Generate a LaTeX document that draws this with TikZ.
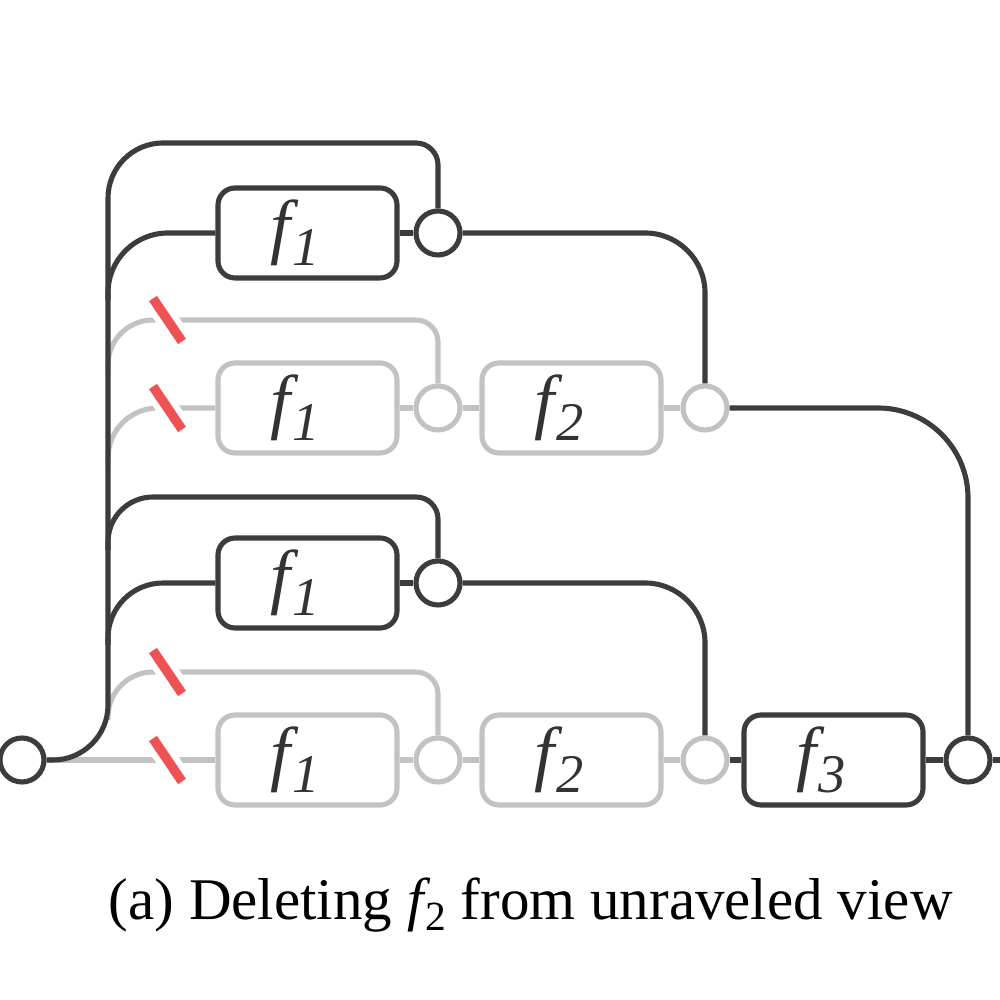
\documentclass[tikz,border=0pt]{standalone}
\usepackage{fontspec}
\setmainfont{Liberation Serif}
\usetikzlibrary{positioning}
\definecolor{wire-dark}{HTML}{3C3C3C}
\definecolor{wire-gray}{HTML}{C2C2C2}
\definecolor{cut-red}{HTML}{EE5253}

\newcommand{\fname}[1]{{\fontsize{20.5}{20.5}\selectfont\itshape f\kern0.02em\raisebox{-0.2em}{\fontsize{15.5}{15.5}\selectfont #1}\kern0.25cm}}

\begin{document}
\begin{tikzpicture}[
    dk/.style={draw=wire-dark, line width=1.45pt},
    gr/.style={draw=wire-gray, line width=1.45pt},
    fbox/.style={rounded corners=0.17cm, minimum width=1.79cm, minimum height=0.90cm,
      inner sep=0pt, fill=white, text=black!80},
    jnode/.style={circle, minimum size=0.44cm, inner sep=0pt, fill=white}]
  \useasboundingbox (0,0) rectangle (10,10);

  % ports and blocks, row by row
  \node[jnode, dk] (in) at (0.22,2.40) {};
  \node[fbox, dk] (a1) at (3.075,7.67) {\fname{1}};
  \node[jnode, dk] (a1o) at (4.38,7.67) {};
  \node[fbox, gr] (b1) at (3.075,5.92) {\fname{1}};
  \node[jnode, gr] (b1o) at (4.38,5.92) {};
  \node[fbox, gr] (b2) at (5.715,5.92) {\fname{2}};
  \node[jnode, gr] (b2o) at (7.05,5.92) {};
  \node[fbox, dk] (c1) at (3.075,4.17) {\fname{1}};
  \node[jnode, dk] (c1o) at (4.38,4.17) {};
  \node[fbox, gr] (d1) at (3.075,2.40) {\fname{1}};
  \node[jnode, gr] (d1o) at (4.38,2.40) {};
  \node[fbox, gr] (d2) at (5.715,2.40) {\fname{2}};
  \node[jnode, gr] (d2o) at (7.05,2.40) {};
  \node[fbox, dk] (d3) at (8.335,2.40) {\fname{3}};
  \node[jnode, dk] (out) at (9.68,2.40) {};
  \coordinate (end) at (10,2.40);

  % removed paths (gray)
  \draw[gr] (in.east) -- (d1.west);
  \draw[gr] (d1.east) -- (d1o.west);
  \draw[gr] (d1o.east) -- (d2.west);
  \draw[gr] (d2.east) -- (d2o.west);
  \draw[gr] (1.08,2.80) [rounded corners=0.45cm] |- (2.5,3.28) [rounded corners=0.22cm] -| (d1o.north);
  \draw[gr] (1.08,5.35) [rounded corners=0.5cm] |- (b1.west);
  \draw[gr] (b1.east) -- (b1o.west);
  \draw[gr] (b1o.east) -- (b2.west);
  \draw[gr] (b2.east) -- (b2o.west);
  \draw[gr] (1.08,6.25) [rounded corners=0.45cm] |- (2.5,6.80) [rounded corners=0.22cm] -| (b1o.north);

  % kept paths (dark)
  \draw[dk] (in.east) [rounded corners=0.55cm] -| (1.08,8.57) [rounded corners=0.5cm] -- (2.5,8.57)
    [rounded corners=0.22cm] -| (a1o.north);
  \draw[dk, rounded corners=0.6cm] (1.08,7.0) |- (a1.west);
  \draw[dk] (a1.east) -- (a1o.west);
  \draw[dk, rounded corners=0.6cm] (a1o.east) -| (b2o.north);
  \draw[dk, rounded corners=0.9cm] (b2o.east) -| (out.north);
  \draw[dk] (1.08,4.50) [rounded corners=0.45cm] |- (2.5,5.03) [rounded corners=0.22cm] -| (c1o.north);
  \draw[dk, rounded corners=0.55cm] (1.08,3.55) |- (c1.west);
  \draw[dk] (c1.east) -- (c1o.west);
  \draw[dk, rounded corners=0.6cm] (c1o.east) -| (d2o.north);
  \draw[dk] (d2o.east) -- (d3.west);
  \draw[dk] (d3.east) -- (out.west);
  \draw[dk] (out.east) -- (end);

  % cut marks
  \foreach \y in {6.80,5.92,3.28,2.40} {
    \draw[white, line width=0.22cm] (1.675,\y) +(-0.12,0.18) -- +(0.12,-0.18);
    \draw[cut-red, line width=0.095cm] (1.675,\y) +(-0.145,0.215) -- +(0.145,-0.215);
  }

  \node[anchor=base west, inner sep=0pt, font=\fontsize{16.8}{19}\selectfont] (cap) at (1.08,0.80)
    {(a) Deleting {\itshape f}\kern0.03em\raisebox{-0.17em}{\fontsize{11.8}{12}\selectfont 2} from unraveled view};
\end{tikzpicture}
\end{document}
